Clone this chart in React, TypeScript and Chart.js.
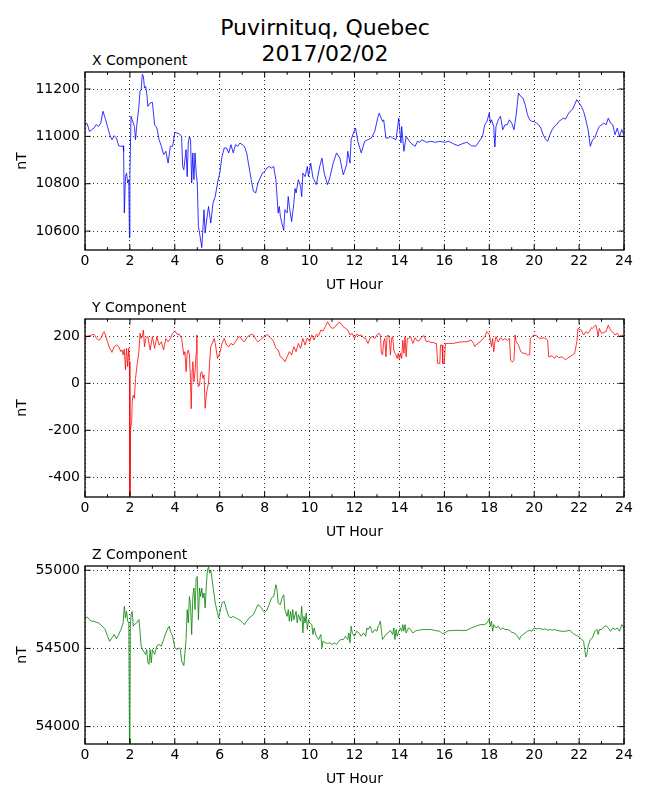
import { useEffect, useRef } from 'react'
import { Chart, LineController, LineElement, PointElement, LinearScale } from 'chart.js'

Chart.register(LineController, LineElement, PointElement, LinearScale)
Chart.defaults.font.family = '"DejaVu Sans", sans-serif'

// UT hours (x) and field values in nT
const xHours = [
  0, 0.1, 0.2, 0.3, 0.4, 0.5, 0.6, 0.7, 0.8, 0.9,
  1.0, 1.1, 1.2, 1.3, 1.4, 1.5, 1.6, 1.7, 1.72, 1.75,
  1.8, 1.85, 1.9, 1.95, 1.98, 2.0, 2.05, 2.1, 2.2, 2.25,
  2.3, 2.4, 2.45, 2.5, 2.55, 2.6, 2.65, 2.7, 2.75, 2.8,
  2.9, 3.0, 3.1, 3.2, 3.3, 3.4, 3.5, 3.6, 3.7, 3.75,
  3.8, 3.9, 3.95, 4.0, 4.1, 4.2, 4.3, 4.35, 4.4, 4.5,
  4.55, 4.6, 4.65, 4.7, 4.75, 4.8, 4.85, 4.9, 4.95, 5.0,
  5.05, 5.1, 5.2, 5.3, 5.35, 5.4, 5.5, 5.6, 5.7, 5.8,
  5.9, 6.0, 6.1, 6.2, 6.3, 6.4, 6.5, 6.6, 6.7, 6.8,
  6.9, 7.0, 7.1, 7.2, 7.3, 7.4, 7.5, 7.6, 7.7, 7.8,
  7.9, 8.0, 8.1, 8.2, 8.3, 8.4, 8.5, 8.6, 8.65, 8.7,
  8.8, 8.85, 8.9, 9.0, 9.05, 9.1, 9.2, 9.3, 9.35, 9.4,
  9.5, 9.6, 9.65, 9.7, 9.8, 9.9, 9.95, 10.05, 10.15, 10.2,
  10.3, 10.45, 10.55, 10.65, 10.8, 10.9, 11.05, 11.2, 11.35, 11.5,
  11.65, 11.7, 11.8, 11.85, 11.95, 12.05, 12.15, 12.3, 12.45, 12.6,
  12.75, 12.9, 13.05, 13.1, 13.25, 13.3, 13.4, 13.5, 13.6, 13.7,
  13.85, 13.97, 14.07, 14.1, 14.2, 14.3, 14.35, 14.4, 14.5, 14.6,
  14.7, 14.8, 14.9, 15.0, 15.2, 15.4,
  15.6, 15.8, 16.0, 16.2, 16.4, 16.6, 16.8, 17.0, 17.2, 17.4,
  17.6, 17.7, 17.8, 17.9, 18.0, 18.05, 18.1, 18.2, 18.25, 18.3,
  18.4, 18.5, 18.6, 18.7, 18.8, 18.9, 19.0, 19.1, 19.2, 19.3,
  19.4, 19.5, 19.6, 19.7, 19.8, 19.9, 20.0, 20.1, 20.2, 20.3,
  20.4, 20.5, 20.6, 20.7, 20.8, 20.9, 21.0, 21.1, 21.2, 21.3,
  21.4, 21.5, 21.6, 21.7, 21.8, 21.9, 22.0, 22.1, 22.2, 22.3,
  22.4, 22.5, 22.6, 22.7, 22.8, 22.9, 23.0, 23.1, 23.2, 23.3,
  23.4, 23.5, 23.6, 23.7, 23.8, 23.9, 24.0,
]
const xValues = [
  11056, 11053, 11021, 11028, 11035, 11050, 11042, 11056, 11106, 11077,
  11042, 11007, 10986, 11003, 10993, 10960, 10958, 10960, 10937, 10676,
  10830, 10845, 10803, 10817, 10572, 10845, 11085, 11070, 11042, 10986,
  11042, 11127, 11190, 11197, 11262, 11254, 11204, 11211, 11183, 11127,
  11141, 11144, 11049, 11035, 10986, 10958, 10923, 10937, 10887, 10923,
  10958, 10958, 10986, 11017, 11014, 11011, 11000, 10873, 10859, 10944,
  10830, 10972, 11000, 10986, 10803, 10930, 10817, 10930, 10845, 10803,
  10620, 10592, 10530, 10690, 10592, 10634, 10704, 10634, 10718, 10746,
  10803, 10845, 10915, 10951, 10951, 10930, 10965, 10930, 10965, 10958,
  10972, 10965, 10958, 10930, 10873, 10817, 10768, 10761, 10803, 10824,
  10845, 10852, 10866, 10873, 10866, 10873, 10817, 10676, 10704, 10662,
  10620, 10603, 10690, 10676, 10746, 10704, 10640, 10718, 10780, 10761,
  10817, 10789, 10746, 10845, 10830, 10873, 10831, 10887, 10825, 10817,
  10796, 10873, 10908, 10845, 10796, 10825, 10887, 10930, 10908, 10838,
  10880, 10937, 10887, 10986, 11014, 11035, 10979, 10930, 10979, 10986,
  10993, 11021, 11084, 11098, 11063, 11070, 10993, 10993, 11000, 10993,
  10986, 11077, 10972, 11042, 10937, 11000, 10993, 10986, 10972, 10965,
  10958, 10979, 10975, 10986, 10975, 10979,
  10975, 10979, 10975, 10979, 10969, 10961, 10969, 10975, 10961, 10958,
  10986, 11000, 11049, 11063, 11099, 11056, 11070, 11042, 10955, 11042,
  11070, 11085, 11028, 11049, 11049, 11070, 11056, 11028, 11092, 11183,
  11169, 11162, 11134, 11092, 11070, 11063, 11063, 11056, 11049, 11035,
  11007, 10989, 10979, 11007, 11028, 11042, 11049, 11063, 11070, 11077,
  11073, 11092, 11106, 11113, 11134, 11155, 11141, 11127, 11106, 11070,
  11028, 10958, 10986, 10993, 11021, 11042, 11049, 11056, 11049, 11077,
  11056, 11049, 11007, 11035, 11000, 11028, 11007,
]

const yHours = [
  0, 0.05, 0.2, 0.4, 0.5, 0.6, 0.7, 0.8, 0.85, 0.9,
  1.0, 1.1, 1.2, 1.3, 1.4, 1.5, 1.6, 1.65, 1.7, 1.75,
  1.8, 1.85, 1.9, 1.95, 1.98, 2.0, 2.03, 2.08, 2.1, 2.15,
  2.2, 2.25, 2.3, 2.4, 2.45, 2.5, 2.55, 2.6, 2.65, 2.7,
  2.8, 2.9, 3.0, 3.1, 3.2, 3.3, 3.4, 3.5, 3.6, 3.7,
  3.8, 3.9, 4.0, 4.1, 4.2, 4.3, 4.4, 4.45, 4.5, 4.55,
  4.6, 4.65, 4.7, 4.73, 4.77, 4.8, 4.85, 4.9, 4.95, 4.98,
  5.0, 5.05, 5.1, 5.15, 5.2, 5.25, 5.3, 5.35, 5.4, 5.45,
  5.5, 5.55, 5.6, 5.7, 5.75, 5.8, 5.9, 6.0, 6.1, 6.2,
  6.3, 6.4, 6.5, 6.6, 6.7, 6.8, 6.9, 7.0, 7.1, 7.2,
  7.3, 7.4, 7.5, 7.6, 7.7, 7.8, 7.9, 8.0, 8.1, 8.2,
  8.3, 8.4, 8.5, 8.6, 8.7, 8.8, 8.9, 9.0, 9.1, 9.2,
  9.3, 9.4, 9.5, 9.6, 9.7, 9.8, 9.9, 10.0, 10.1, 10.2,
  10.3, 10.4, 10.5, 10.6, 10.7, 10.8, 10.9, 11.0, 11.1, 11.2,
  11.3, 11.4, 11.5, 11.6, 11.7, 11.8, 11.9, 12.0, 12.1, 12.2,
  12.3, 12.4, 12.5, 12.6, 12.7, 12.8, 12.9, 13.0, 13.1, 13.15,
  13.2, 13.25, 13.3, 13.35, 13.4, 13.45, 13.5, 13.55, 13.6, 13.65,
  13.7, 13.75, 13.8, 13.85, 13.9, 13.95, 14.0, 14.05, 14.1, 14.15,
  14.2, 14.25, 14.3, 14.35, 14.4, 14.5, 14.6, 14.7, 14.8, 14.9,
  15.0, 15.1, 15.2, 15.3, 15.4, 15.5, 15.6, 15.65, 15.7, 15.8,
  15.83, 15.9, 15.93, 16.0, 16.05, 16.2, 16.4, 16.6, 16.8, 17.0,
  17.2, 17.3, 17.35, 17.4, 17.6, 17.8, 17.9, 18.0, 18.05, 18.1,
  18.15, 18.2, 18.25, 18.3, 18.4, 18.5, 18.6, 18.7, 18.8, 18.9,
  18.95, 19.0, 19.05, 19.1, 19.15, 19.2, 19.3, 19.35, 19.4, 19.5,
  19.6, 19.7, 19.8, 19.83, 19.9, 20.0, 20.1, 20.2, 20.3, 20.4,
  20.5, 20.6, 20.65, 20.7, 20.8, 20.9, 21.0, 21.1, 21.2, 21.3,
  21.4, 21.5, 21.6, 21.7, 21.8, 21.9, 21.95, 22.0, 22.1, 22.2,
  22.3, 22.4, 22.5, 22.55, 22.6, 22.7, 22.75, 22.8, 22.85, 22.9,
  23.0, 23.1, 23.2, 23.3, 23.4, 23.5, 23.6, 23.7, 23.8, 23.9, 24.0,
]
const yValues = [
  180, 199, 203, 209, 194, 184, 189, 213, 220, 209,
  177, 149, 132, 156, 163, 156, 135, 142, 121, 146,
  57, 149, 71, 149, 92, -478, -191, -163, -78, -50,
  -64, 21, 64, 135, 213, 191, 199, 227, 156, 191,
  199, 142, 199, 149, 199, 163, 177, 142, 191, 177,
  191, 213, 223, 209, 209, 191, 121, 135, 50, 128,
  142, 121, 7, -108, 57, 92, 7, 50, 128, 206,
  21, -14, -7, 43, 50, 21, 36, -106, -50, -21,
  0, 92, 156, 177, 191, 170, 106, 128, 170, 191,
  163, 156, 170, 163, 177, 194, 199, 184, 177, 194,
  203, 209, 206, 189, 177, 184, 194, 199, 209, 199,
  191, 177, 149, 142, 113, 106, 92, 113, 135, 121,
  156, 135, 170, 149, 191, 163, 194, 177, 206, 184,
  209, 203, 227, 223, 241, 262, 245, 234, 237, 248,
  260, 255, 241, 234, 227, 206, 213, 191, 209, 203,
  206, 194, 191, 170, 194, 199, 191, 206, 213, 206,
  128, 121, 177, 191, 113, 199, 206, 191, 121, 191,
  199, 142, 128, 121, 106, 128, 99, 128, 106, 184,
  128, 199, 113, 191, 191, 199, 170, 194, 180, 184,
  199, 203, 177, 180, 174, 174, 170, 170, 85, 85,
  163, 163, 85, 85, 170, 170, 170, 174, 177, 177,
  184, 170, 156, 163, 177, 199, 220, 209, 184, 156,
  191, 135, 177, 199, 177, 194, 184, 191, 184, 191,
  99, 92, 92, 99, 206, 177, 163, 149, 135, 128,
  128, 121, 121, 191, 199, 206, 203, 194, 191, 194,
  191, 184, 113, 113, 118, 106, 118, 109, 113, 109,
  99, 109, 113, 121, 128, 177, 234, 231, 227, 206,
  220, 213, 227, 237, 234, 245, 248, 227, 199, 234,
  213, 217, 220, 248, 227, 217, 206, 213, 199, 206, 199,
]

const zHours = [
  0, 0.1, 0.2, 0.3, 0.4, 0.5, 0.6, 0.7, 0.8, 0.9,
  1.0, 1.1, 1.2, 1.3, 1.4, 1.5, 1.6, 1.7, 1.75, 1.8,
  1.85, 1.9, 1.95, 1.98, 2.0, 2.02, 2.05, 2.1, 2.15, 2.2,
  2.3, 2.4, 2.45, 2.5, 2.6, 2.7, 2.75, 2.8, 2.85, 2.9,
  2.95, 3.0, 3.1, 3.2, 3.3, 3.4, 3.5, 3.6, 3.7, 3.75,
  3.8, 3.9, 4.0, 4.1, 4.2, 4.25, 4.3, 4.4, 4.5, 4.55,
  4.6, 4.65, 4.7, 4.75, 4.8, 4.85, 4.9, 4.95, 5.0, 5.05,
  5.1, 5.15, 5.2, 5.25, 5.3, 5.35, 5.4, 5.45, 5.5, 5.55,
  5.6, 5.7, 5.8, 5.9, 5.95, 6.0, 6.1, 6.2, 6.3, 6.4,
  6.5, 6.6, 6.7, 6.8, 6.9, 7.0, 7.1, 7.2, 7.3, 7.4,
  7.5, 7.6, 7.7, 7.8, 7.9, 8.0, 8.1, 8.2, 8.3, 8.4,
  8.5, 8.55, 8.6, 8.7, 8.75, 8.8, 8.85, 8.9, 9.0, 9.05,
  9.1, 9.15, 9.2, 9.25, 9.3, 9.4, 9.45, 9.5, 9.6, 9.65,
  9.7, 9.75, 9.8, 9.85, 9.9, 9.95, 10.0, 10.1, 10.15, 10.2,
  10.3, 10.4, 10.5, 10.55, 10.6, 10.7, 10.8, 10.9, 11.0, 11.1,
  11.2, 11.3, 11.4, 11.5, 11.6, 11.7, 11.75, 11.8, 11.85, 11.9,
  12.0, 12.1, 12.2, 12.3, 12.4, 12.5, 12.55, 12.6, 12.7, 12.75,
  12.8, 12.9, 13.0, 13.05, 13.1, 13.15, 13.2, 13.25, 13.3, 13.4,
  13.5, 13.6, 13.7, 13.75, 13.8, 13.85, 13.9, 14.0, 14.05, 14.1,
  14.15, 14.2, 14.25, 14.3, 14.4, 14.5, 14.6, 14.7, 14.8, 14.9,
  15.0, 15.2, 15.4, 15.6, 15.8, 15.9, 16.0, 16.2, 16.4, 16.6,
  16.8, 17.0, 17.2, 17.4, 17.6, 17.8, 17.9, 18.0, 18.05, 18.1,
  18.15, 18.2, 18.3, 18.4, 18.5, 18.6, 18.7, 18.8, 18.9, 19.0,
  19.1, 19.2, 19.3, 19.35, 19.4, 19.5, 19.6, 19.7, 19.8, 19.9,
  20.0, 20.1, 20.2, 20.3, 20.4, 20.5, 20.6, 20.7, 20.8, 20.9,
  21.0, 21.2, 21.4, 21.6, 21.7, 21.8, 21.9, 22.0, 22.1, 22.2,
  22.25, 22.3, 22.35, 22.4, 22.5, 22.6, 22.7, 22.8, 22.85, 22.9,
  23.0, 23.1, 23.2, 23.3, 23.4, 23.5, 23.6, 23.7, 23.8, 23.9, 24.0,
]
const zValues = [
  54695, 54701, 54684, 54674, 54674, 54667, 54663, 54652, 54637, 54621,
  54578, 54546, 54568, 54589, 54561, 54589, 54621, 54663, 54769, 54695,
  54737, 54674, 54663, 53921, 53895, 54642, 54716, 54737, 54642, 54652,
  54663, 54684, 54610, 54515, 54483, 54462, 54493, 54408, 54398, 54493,
  54408, 54493, 54462, 54515, 54525, 54515, 54557, 54599, 54631, 54642,
  54610, 54578, 54504, 54493, 54504, 54493, 54419, 54390, 54557, 54748,
  54663, 54832, 54769, 54589, 54832, 54886, 54748, 54949, 54960, 54684,
  54886, 54832, 54886, 54822, 54854, 54758, 54896, 55002, 55020, 54981,
  55002, 54896, 54790, 54727, 54695, 54727, 54790, 54801, 54748, 54705,
  54695, 54705, 54695, 54688, 54680, 54667, 54652, 54674, 54695, 54705,
  54716, 54748, 54780, 54769, 54748, 54731, 54744, 54780, 54822, 54832,
  54907, 54875, 54790, 54780, 54811, 54832, 54843, 54748, 54705, 54748,
  54674, 54737, 54674, 54748, 54684, 54737, 54663, 54716, 54674, 54769,
  54599, 54705, 54663, 54727, 54621, 54684, 54663, 54652, 54589, 54631,
  54578, 54557, 54589, 54504, 54546, 54536, 54532, 54536, 54525, 54536,
  54525, 54546, 54557, 54557, 54578, 54557, 54599, 54536, 54642, 54599,
  54578, 54610, 54599, 54578, 54599, 54578, 54631, 54621, 54642, 54621,
  54599, 54621, 54610, 54642, 54652, 54674, 54610, 54557, 54568, 54589,
  54599, 54616, 54589, 54631, 54557, 54621, 54578, 54621, 54631, 54610,
  54652, 54610, 54652, 54599, 54631, 54621, 54599, 54610, 54616, 54616,
  54621, 54621, 54621, 54614, 54610, 54595, 54599, 54614, 54614, 54616,
  54614, 54616, 54631, 54642, 54652, 54652, 54663, 54688, 54642, 54674,
  54610, 54652, 54631, 54642, 54621, 54631, 54621, 54621, 54616, 54603,
  54599, 54589, 54568, 54557, 54578, 54589, 54599, 54610, 54616, 54610,
  54631, 54625, 54629, 54625, 54621, 54625, 54616, 54621, 54616, 54621,
  54616, 54610, 54610, 54616, 54599, 54589, 54582, 54574, 54561, 54546,
  54493, 54445, 54462, 54515, 54557, 54568, 54610, 54621, 54589, 54621,
  54621, 54637, 54646, 54631, 54610, 54631, 54621, 54631, 54610, 54652, 54631,
]

// tick values
const hourTicks = [0, 2, 4, 6, 8, 10, 12, 14, 16, 18, 20, 22, 24]
const minorHours = [1, 3, 5, 7, 9, 11, 13, 15, 17, 19, 21, 23]
const xTicks = [10600, 10800, 11000, 11200]
const yTicks = [-400, -200, 0, 200]
const zTicks = [54000, 54500, 55000]

const tickFont = { family: '"DejaVu Sans", sans-serif', size: 14 }

// matplotlib-style frame with inward ticks on all four sides
const frameTicks = {
  id: 'frameTicks',
  afterDraw(chart: any) {
    const { ctx, chartArea: a } = chart
    const sx = chart.scales.x
    const sy = chart.scales.y
    ctx.save()
    ctx.strokeStyle = '#000'
    ctx.lineWidth = 1
    ctx.beginPath()
    const vTick = (px: number, len: number) => {
      ctx.moveTo(px, a.bottom); ctx.lineTo(px, a.bottom - len)
      ctx.moveTo(px, a.top); ctx.lineTo(px, a.top + len)
    }
    minorHours.forEach(h => vTick(sx.getPixelForValue(h), 2.8))
    sx.ticks.forEach((t: any) => vTick(sx.getPixelForValue(t.value), 5.6))
    sy.ticks.forEach((t: any) => {
      const py = sy.getPixelForValue(t.value)
      ctx.moveTo(a.left, py); ctx.lineTo(a.left + 5.6, py)
      ctx.moveTo(a.right, py); ctx.lineTo(a.right - 5.6, py)
    })
    ctx.stroke()
    ctx.lineWidth = 1.3
    ctx.strokeRect(a.left, a.top, a.right - a.left, a.bottom - a.top)
    ctx.restore()
  },
}

interface PanelProps {
  top: number
  title: string
  hours: number[]
  values: number[]
  ticks: number[]
  color: string
  min: number
  max: number
}

function Panel({ top, title, hours, values, ticks, color, min, max }: PanelProps) {
  const canvasRef = useRef<HTMLCanvasElement>(null)

  useEffect(() => {
    if (!canvasRef.current) return
    const chart = new Chart(canvasRef.current, {
      type: 'line',
      data: {
        datasets: [{
          data: hours.map((h, i) => ({ x: h, y: values[i] })),
          borderColor: color,
          borderWidth: 0.8,
          pointRadius: 0,
          fill: false,
          tension: 0,
        }],
      },
      options: {
        animation: false,
        responsive: false,
        layout: { padding: { top: 8, right: 26, bottom: 10, left: 0 } },
        plugins: { legend: { display: false }, tooltip: { enabled: false } },
        scales: {
          x: {
            type: 'linear',
            min: 0,
            max: 24,
            afterBuildTicks: (s: any) => { s.ticks = hourTicks.map(v => ({ value: v })) },
            ticks: { color: '#000', font: tickFont, padding: 3, maxRotation: 0, autoSkip: false, callback: (v: any) => String(v) },
            grid: { color: '#000', lineWidth: 0.8, drawTicks: false },
            border: { display: false, dash: [1, 3] },
            title: { display: true, text: 'UT Hour', color: '#000', font: tickFont, padding: 0 },
            afterFit: (s: any) => { s.height = 44; s.paddingLeft = 0; s.paddingRight = 0 },
          },
          y: {
            type: 'linear',
            min,
            max,
            afterBuildTicks: (s: any) => { s.ticks = ticks.map(v => ({ value: v })) },
            ticks: { color: '#000', font: tickFont, padding: 5, callback: (v: any) => String(v) },
            grid: { color: '#000', lineWidth: 0.8, drawTicks: false },
            border: { display: false, dash: [1, 3] },
            title: { display: true, text: 'nT', color: '#000', font: tickFont, padding: { top: 14, bottom: 0 } },
            afterFit: (s: any) => { s.width = 85; s.paddingTop = 0; s.paddingBottom = 0 },
          },
        },
      },
      plugins: [frameTicks],
    })
    return () => chart.destroy()
  }, [])

  return (
    <>
      <div style={{ position: 'absolute', left: 92, top: top - 20, fontFamily: '"DejaVu Sans", sans-serif', fontSize: 14, lineHeight: '16.8px', whiteSpace: 'nowrap' }}>
        {title}
      </div>
      <div style={{ position: 'absolute', left: 0, top: top - 8, width: 650, height: 240 }}>
        <canvas ref={canvasRef} width={650} height={240} />
      </div>
    </>
  )
}

export default function App() {
  return (
    <div style={{ position: 'absolute', left: 0, top: 0, width: 650, height: 800, background: '#fff' }}>
      <div style={{ position: 'absolute', left: 0, top: 15, width: 650, textAlign: 'center', fontFamily: '"DejaVu Sans", sans-serif', fontSize: 22, lineHeight: '26.4px' }}>
        Puvirnituq, Quebec<br />2017/02/02
      </div>
      <Panel top={72} title="X Component" hours={xHours} values={xValues} ticks={xTicks} color="#0000ff" min={10520} max={11272} />
      <Panel top={319} title="Y Component" hours={yHours} values={yValues} ticks={yTicks} color="#ff0000" min={-484} max={274} />
      <Panel top={566} title="Z Component" hours={zHours} values={zValues} ticks={zTicks} color="#008000" min={53889} max={55027} />
    </div>
  )
}
